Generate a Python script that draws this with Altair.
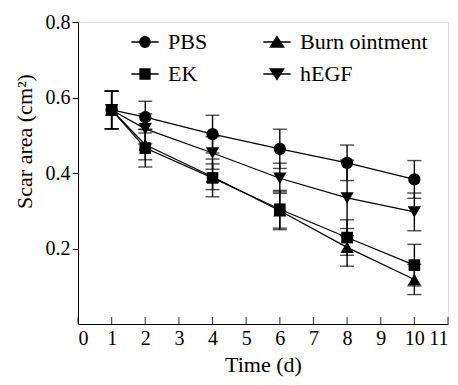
import altair as alt
import pandas as pd

# ---- data ----
days = [1, 2, 4, 6, 8, 10]
# legend is laid out column by column: PBS, EK | Burn ointment, hEGF
groups = ["PBS", "EK", "Burn ointment", "hEGF"]
pbs = [0.567, 0.548, 0.503, 0.464, 0.427, 0.383]
pbs_err = [0.05, 0.042, 0.05, 0.052, 0.047, 0.05]
ek = [0.567, 0.466, 0.387, 0.304, 0.229, 0.156]
ek_err = [0.05, 0.05, 0.05, 0.05, 0.047, 0.055]
burn = [0.567, 0.475, 0.390, 0.300, 0.203, 0.118]
burn_err = [0.05, 0.04, 0.034, 0.05, 0.05, 0.04]
hegf = [0.567, 0.517, 0.453, 0.386, 0.334, 0.297]
hegf_err = [0.05, 0.04, 0.043, 0.04, 0.1, 0.05]

x_ticks = list(range(0, 12))
y_ticks = [0.2, 0.4, 0.6, 0.8]

series = {"PBS": (pbs, pbs_err), "EK": (ek, ek_err),
          "Burn ointment": (burn, burn_err), "hEGF": (hegf, hegf_err)}
rows = []
for g in groups:
    vals, errs = series[g]
    for d, v, e in zip(days, vals, errs):
        rows.append({"day": d, "group": g, "area": v, "lo": v - e, "hi": v + e})
df = pd.DataFrame(rows)
tick_df = pd.DataFrame({"day": x_ticks, "zero": [0] * len(x_ticks)})

FONT = "Liberation Serif"
W, H = 370, 302

marker_shapes = {"PBS": ("circle", 150), "EK": ("square", 135),
                 "Burn ointment": ("triangle-up", 175), "hEGF": ("triangle-down", 175)}
# legend symbols: short line with the marker in its middle (unit = half symbol width)
legend_paths = [
    "M-2.6,0L2.6,0M1,0A1,1,0,1,1,-1,0A1,1,0,1,1,1,0Z",
    "M-2.6,0L2.6,0M-0.95,-0.95L0.95,-0.95L0.95,0.95L-0.95,0.95Z",
    "M-2.6,0L2.6,0M0,-1.05L1.3,0.95L-1.3,0.95Z",
    "M-2.6,0L2.6,0M0,1.05L1.3,-0.95L-1.3,-0.95Z",
]

x_axis = alt.Axis(values=x_ticks, ticks=False, grid=False, title="Time (d)",
                  labelPadding=4, titlePadding=6, domainColor="black",
                  labelFontSize=20, titleFontSize=22, titleFontWeight="normal",
                  labelFont=FONT, titleFont=FONT, labelColor="black", titleColor="black")
y_axis = alt.Axis(values=y_ticks, format=".1f", tickSize=6, grid=False,
                  title="Scar area (cm²)", labelPadding=2, domainColor="black",
                  tickColor="black", labelFontSize=20, titleFontSize=22,
                  titleFontWeight="normal", labelFont=FONT, titleFont=FONT,
                  labelColor="black", titleColor="black",
                  titleX=-54, titleY=119, titleBaseline="middle", titleAlign="center",
                  titleAngle=270)
x_scale = alt.Scale(domain=[0, 11], nice=False, zero=False)
y_scale = alt.Scale(domain=[0, 0.8], nice=False)


def X(field):
    return alt.X(field, scale=x_scale, axis=x_axis)


def Y(field):
    return alt.Y(field, scale=y_scale, axis=y_axis)


base = alt.Chart(df)

lines = base.mark_line(strokeWidth=1.2, color="black").encode(
    x=X("day:Q"), y=Y("area:Q"), detail="group:N")

bars = base.mark_rule(color="black", strokeWidth=1.4).encode(
    x=X("day:Q"), y=Y("lo:Q"), y2="hi:Q")

caps = base.transform_fold(["lo", "hi"], as_=["which", "cap"]).mark_tick(
    color="black", orient="horizontal", size=14, thickness=1.4).encode(
    x=X("day:Q"), y=Y("cap:Q"))

marker_layers = [
    base.transform_filter(alt.datum.group == g).mark_point(
        filled=True, color="black", opacity=1, shape=marker_shapes[g][0],
        size=marker_shapes[g][1]).encode(x=X("day:Q"), y=Y("area:Q"))
    for g in groups
]

# invisible copy of the points that carries the legend (line + marker symbols)
legend_carrier = base.mark_point(filled=False, color="black", fill="black", stroke="black",
                                 strokeWidth=1.3, opacity=0).encode(
    x=X("day:Q"), y=Y("area:Q"),
    shape=alt.Shape("group:N", scale=alt.Scale(domain=groups, range=legend_paths),
                    legend=alt.Legend(title=None, orient="none", legendX=56, legendY=9,
                                      columns=2, columnPadding=52, rowPadding=10,
                                      padding=0, symbolSize=110, labelOffset=12,
                                      labelFont=FONT, labelFontSize=22, labelColor="black",
                                      symbolStrokeWidth=1.3, symbolOpacity=1)),
)

# inward-pointing ticks on the time axis
inner_ticks = alt.Chart(tick_df).mark_tick(
    orient="vertical", size=7, thickness=1.2, color="black", yOffset=-3.5).encode(
    x=X("day:Q"), y=Y("zero:Q"))

chart = alt.layer(lines, bars, caps, *marker_layers, legend_carrier, inner_ticks).properties(
    width=W, height=H,
    autosize=alt.AutoSizeParams(type="none"),
    padding={"left": 70, "top": 14, "right": 2, "bottom": 53},
).configure_view(stroke=None).configure(
    background="white", font=FONT,
    style={"guide-label": {"font": FONT}, "guide-title": {"font": FONT}},
).configure_axis(labelFont=FONT, titleFont=FONT).configure_legend(labelFont=FONT)

chart.save("out.html", embed_options={"renderer": "svg", "actions": False})
